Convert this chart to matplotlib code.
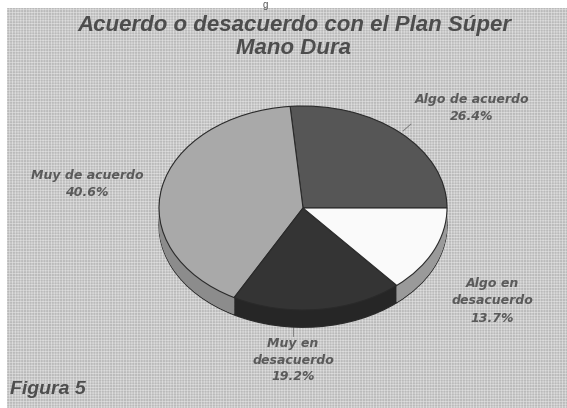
import matplotlib
matplotlib.use('Agg')
import matplotlib.pyplot as plt
from matplotlib.patches import Rectangle

# datos del gráfico (orden antihorario desde las 3 en punto)
categorias = ['Algo de acuerdo', 'Muy de acuerdo', 'Muy en\ndesacuerdo', 'Algo en\ndesacuerdo']
porcentajes = [26.4, 40.6, 19.2, 13.7]
etiquetas = ['26.4%', '40.6%', '19.2%', '13.7%']
colores = ['#565656', '#a9a9a9', '#343434', '#fafafa']
colores_lado = ['#3e3e3e', '#8c8c8c', '#262626', '#9a9a9a']
titulo = 'Acuerdo o desacuerdo con el Plan Súper\nMano Dura'

plt.rcParams['hatch.linewidth'] = 0.5

W, H = 567, 408
fig = plt.figure(figsize=(W / 100, H / 100), dpi=100, facecolor='white')

# fondo gris del recuadro escaneado (trama fina)
fondo = Rectangle((7 / W, 0), 1, (H - 8) / H, transform=fig.transFigure,
                  facecolor='#bababa', edgecolor='#dcdcdc', linewidth=0,
                  hatch='++++++', zorder=-5)
fig.add_artist(fondo)

def px(x, y):
    return x / W, 1 - y / H

# ejes de la torta: 144 px por unidad en x, 102 px en y (elipse)
sx, sy = 144, 102
cx, cy = 303, 208
x0, x1, y0, y1 = -1.05, 1.05, -1.3, 1.05
ax = fig.add_axes([(cx + x0 * sx) / W, (H - (cy - y0 * sy)) / H,
                   (x1 - x0) * sx / W, (y1 - y0) * sy / H])
ax.set_zorder(2)

prof = 0.17
n = 30
for k in range(n, 0, -1):
    ax.pie(porcentajes, startangle=0, colors=colores_lado, center=(0, -prof * k / n),
           wedgeprops=dict(linewidth=0.8 if k == n else 0, edgecolor='#2a2a2a'))
ax.pie(porcentajes, startangle=0, colors=colores,
       wedgeprops=dict(linewidth=0.8, edgecolor='#2a2a2a'))
ax.set_aspect('auto')
ax.set_xlim(x0, x1)
ax.set_ylim(y0, y1)
ax.axis('off')

# título y etiquetas
fig.text(*px(294, 37), titulo, ha='center', va='center', fontsize=16,
         family='Liberation Sans', weight='bold', style='italic', color='#4d4d4d',
         linespacing=1.15)
fig.text(*px(265, 0), 'g', ha='center', va='top', fontsize=7,
         family='Liberation Sans', color='#555555')

pos = [(472, 108), (87, 184), (293, 360), (492, 301)]
for cat, et, (x, y) in zip(categorias, etiquetas, pos):
    fig.text(*px(x, y), cat + '\n' + et, ha='center', va='center', fontsize=9,
             family='DejaVu Sans', weight='bold', style='italic', color='#5a5a5a',
             linespacing=1.4)

# líneas guía
fig.add_artist(plt.Line2D([403 / W, 411 / W], [1 - 131 / H, 1 - 124 / H], color='#777777', lw=0.6))
fig.add_artist(plt.Line2D([293 / W, 293 / W], [1 - 326 / H, 1 - 336 / H], color='#777777', lw=0.6))

fig.text(*px(10, 389), 'Figura 5', ha='left', va='center', fontsize=14,
         family='Liberation Sans', weight='bold', style='italic', color='#4d4d4d')

fig.savefig('out.png', dpi=100)
